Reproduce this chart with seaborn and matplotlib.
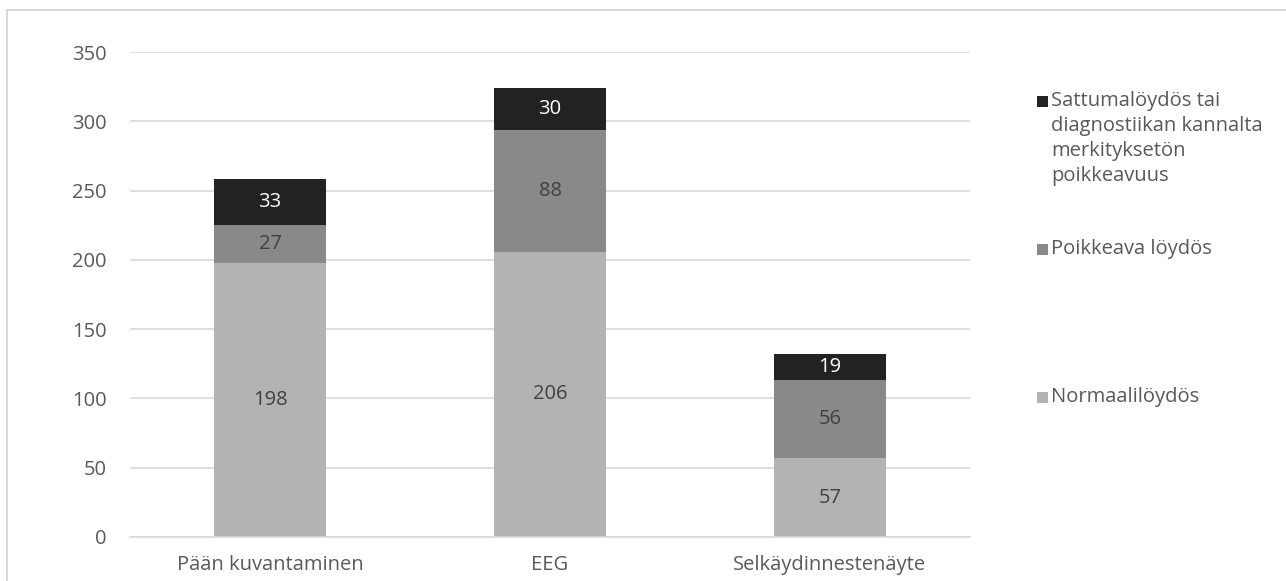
import matplotlib
matplotlib.use("Agg")
import matplotlib.pyplot as plt
import seaborn as sns
import numpy as np
import pandas as pd
from matplotlib.patches import Rectangle

categories = ["Pään kuvantaminen", "EEG", "Selkäydinnestenäyte"]
normaali = [198, 206, 57]
poikkeava = [27, 88, 56]
sattuma = [33, 30, 19]
series_names = ["Normaalilöydös", "Poikkeava löydös",
                "Sattumalöydös tai\ndiagnostiikan kannalta\nmerkityksetön\npoikkeavuus"]
yticks = [0, 50, 100, 150, 200, 250, 300, 350]

colors = ["#b3b3b3", "#898989", "#222222"]
label_colors = ["#404040", "#404040", "#ffffff"]
FS = 14.5

sns.set_theme(style="white")
plt.rcParams['font.family'] = ['Open Sans', 'DejaVu Sans']

fig = plt.figure(figsize=(12.86, 5.81), dpi=100)
ax = fig.add_axes([130/1286, 1-537/581, 840/1286, (537-52)/581])

df = pd.DataFrame({"cat": categories, "n": normaali, "p": poikkeava, "s": sattuma})
bottoms = np.zeros(len(categories))
for col, c, lc in zip(["n", "p", "s"], colors, label_colors):
    sns.barplot(data=df, x="cat", y=col, bottom=bottoms, color=c, width=0.4,
                ax=ax, saturation=1, edgecolor="none", linewidth=0)
    cont = ax.containers[-1]
    ax.bar_label(cont, labels=[str(v) for v in df[col]], label_type="center",
                 color=lc, fontsize=FS)
    bottoms = bottoms + df[col].values

ax.set_ylim(0, 350)
ax.set_xlim(-0.5, 2.5)
ax.set_yticks(yticks)
ax.set_yticklabels([str(t) for t in yticks])
ax.yaxis.grid(True, color="#d9d9d9", linewidth=1.2)
ax.set_axisbelow(True)
for s in ["top", "right", "left"]:
    ax.spines[s].set_visible(False)
ax.spines["bottom"].set_color("#d9d9d9")
ax.spines["bottom"].set_linewidth(1.2)
ax.set_xlabel("")
ax.set_ylabel("")
ax.tick_params(axis="y", length=0, pad=17, labelsize=FS, labelcolor="#595959")
ax.tick_params(axis="x", which="major", length=0, pad=13, labelsize=FS, labelcolor="#595959")
ax.set_xticks([-0.5, 0.5, 1.5, 2.5], minor=True)
ax.tick_params(axis="x", which="minor", length=7, color="#d9d9d9", width=1.2, direction="out")

# legend
leg_items = [(series_names[2], colors[2], 101), (series_names[1], colors[1], 249),
             (series_names[0], colors[0], 397)]
for name, c, yc in leg_items:
    fig.add_artist(Rectangle((1037/1286, 1-(yc+6)/581), 11/1286, 11/581,
                             transform=fig.transFigure, facecolor=c, edgecolor="none"))
    fig.text(1051/1286, 1-(yc-10)/581, name, ha="left", va="top", fontsize=FS,
             color="#595959", linespacing=1.34)

# chart border
fig.add_artist(Rectangle((7/1286, -0.1), 1.2, 1.1 - 10/581, transform=fig.transFigure,
                         facecolor="none", edgecolor="#d9d9d9", linewidth=1.5))

fig.savefig("out.png", dpi=100)
